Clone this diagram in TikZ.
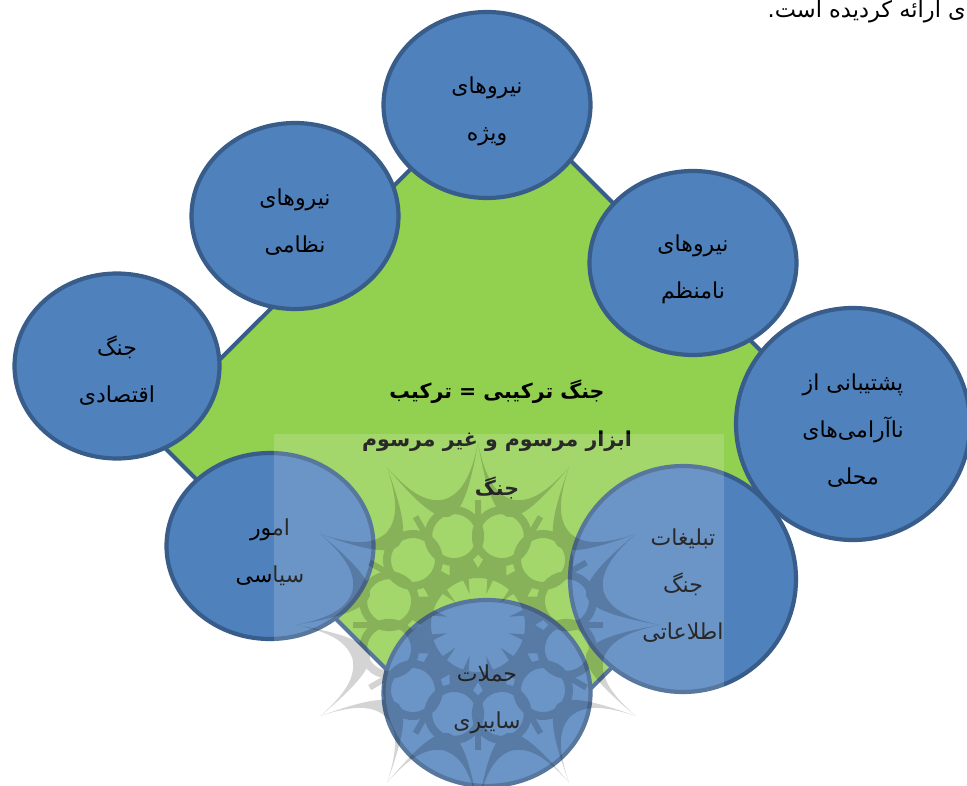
\documentclass[tikz,border=0pt]{standalone}
\usepackage{fontspec}
\usetikzlibrary{shapes.geometric}
\newfontfamily\arabicfont[Script=Arabic]{DejaVu Sans}
\TeXXeTstate=1
\newcommand{\rl}[1]{\beginR #1\endR}
\newcommand{\rf}[1]{\rule{0pt}{29pt}\beginR #1\endR}
\definecolor{blueFill}{HTML}{4F81BD}
\definecolor{blueLine}{HTML}{385D8A}
\definecolor{greenFill}{HTML}{92D050}
\tikzset{
  bubble/.style={shape=ellipse,draw=blueLine,fill=blueFill,line width=4.2pt,inner sep=0pt,align=center,
    font={\arabicfont\fontsize{22}{47}\selectfont}},
  mark ink/.style={fill=black,draw=none},
}
\begin{document}
\begin{tikzpicture}[x=1pt,y=-1pt]
\useasboundingbox (0,0) rectangle (967,786);
\fill[white] (0,0) rectangle (967,786);
% top text
\node[anchor=east,inner sep=0pt,font={\arabicfont\fontsize{22.5}{26}\selectfont}] (head) at (966,12) {\rl{ی ارائه کردیده است.}};
% diamond
\draw[fill=greenFill,draw=blueLine,line width=4pt,line join=round] (495,85) -- (845,435) -- (498,781) -- (148,431) -- cycle;
% bubbles
\node[bubble,minimum width=207pt,minimum height=186pt] (b1) at (487,105) {\rf{نیروهای}\\\rl{ویژه}};
\node[bubble,minimum width=207pt,minimum height=186pt] (b2) at (295,216) {\rf{نیروهای}\\\rl{نظامی}};
\node[bubble,minimum width=207pt,minimum height=184pt] (b3) at (693,263) {\rf{نیروهای}\\\rl{نامنظم}};
\node[bubble,minimum width=205pt,minimum height=185pt] (b4) at (117,366) {\rf{جنگ}\\\rl{اقتصادی}};
\node[bubble,minimum width=234pt,minimum height=232pt] (b5) at (853,424) {\rf{پشتیبانی از}\\\rl{ناآرامی‌های}\\\rl{محلی}};
\node[bubble,minimum width=207pt,minimum height=186pt] (b6) at (270,546) {\rf{امور}\\\rl{سیاسی}};
\node[bubble,minimum width=226pt,minimum height=226pt] (b7) at (683,579) {\rf{تبلیغات}\\\rl{جنگ}\\\rl{اطلاعاتی}};
\node[bubble,minimum width=207pt,minimum height=186pt] (b8) at (487,693) {\rf{حملات}\\\rl{سایبری}};
% centre text
\node[align=center,inner sep=0pt,font={\arabicfont\bfseries\fontsize{20.5}{48.5}\selectfont}] (centre) at (497,439)
  {\rl{جنگ ترکیبی = ترکیب}\\\rl{ابزار مرسوم و غیر مرسوم}\\\rl{جنگ}};
% watermark
\fill[white,opacity=0.16] (274,434) rectangle (724,790);
\begin{scope}[shift={(478,625)},transparency group,opacity=0.17]
  \fill[mark ink,even odd rule] (0,0) circle (47pt) (0,0) circle (70pt)
    \foreach \a in {0,30,...,330}{ (\a:57) -- (\a+5:67) -- (\a:76) -- (\a-5:67) -- cycle };
  \foreach \a in {0,30,...,330}{
    \begin{scope}[rotate=\a]
      \fill[mark ink] (0:182) .. controls (3:145) and (8:132) .. (15:130)
         .. controls (22:132) and (27:145) .. (30:182)
         .. controls (26:130) and (21:114) .. (15:112)
         .. controls (9:114) and (4:130) .. cycle;
      \draw[black,line width=8pt] (15:92) circle (26pt);
      \draw[black,line width=6pt] (0:105) -- (0:125);
      \fill[mark ink] (11:50) -- (15:32) -- (19:50) -- cycle;
    \end{scope}
  }
\end{scope}
\end{tikzpicture}
\end{document}
